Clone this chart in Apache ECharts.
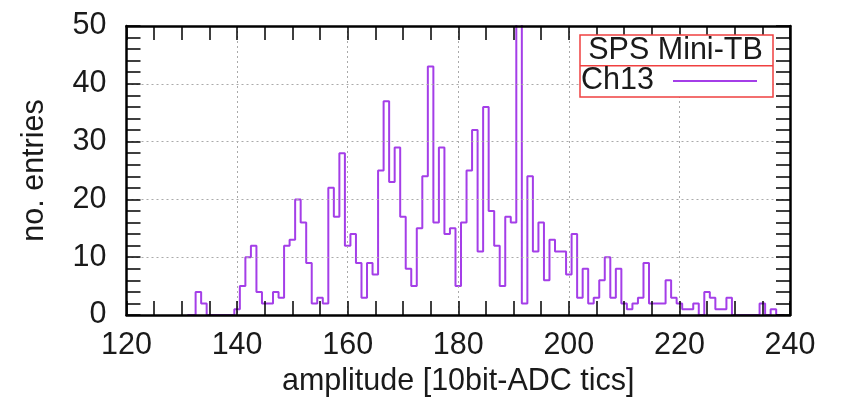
<!DOCTYPE html>
<html>
<head>
<meta charset="utf-8">
<script src="https://cdn.jsdelivr.net/npm/echarts@6/dist/echarts.min.js"></script>
<style>
html,body{margin:0;padding:0;background:#fff;}
#chart{width:853px;height:408px;}
</style>
</head>
<body>
<div id="chart"></div>
<script>
// ---- data ----
const amplitudes = [131,132,133,134,135,136,137,138,139,140,141,142,143,144,145,146,147,148,149,150,
  151,152,153,154,155,156,157,158,159,160,161,162,163,164,165,166,167,168,169,170,
  171,172,173,174,175,176,177,178,179,180,181,182,183,184,185,186,187,188,189,190,
  191,192,193,194,195,196,197,198,199,200,201,202,203,204,205,206,207,208,209,210,
  211,212,213,214,215,216,217,218,219,220,221,222,223,224,225,226,227,228,229,230,
  231,232,233,234,235,236,237,238,239];
const entries = [0,0,4,2,0,0,0,0,0,1,5,10,12,4,2,2,4,3,12,13,
  20,16,9,2,3,2,22,17,28,12,14,9,3,9,7,25,37,23,29,17,
  8,5,15,24,43,16,29,14,15,5,16,25,32,11,36,18,12,5,17,16,
  60,2,24,11,16,6,13,11,11,7,14,3,8,2,3,6,10,3,8,2,
  1,2,3,9,2,2,2,6,3,2,1,1,2,0,4,3,1,1,3,0,
  0,0,0,0,2,0,1,0,0];
const seriesName = 'Ch13';
const legendTitle = 'SPS Mini-TB';
const xTitle = 'amplitude [10bit-ADC tics]';
const yTitle = 'no. entries';

const FONT = '"Liberation Sans", Arial, Helvetica, sans-serif';
const FS = 30.5;
const TXT = '#1a1a1a';
const LINE = '#a43ee8';

const chart = echarts.init(document.getElementById('chart'), null, {renderer:'canvas'});

function axisCommon(extra){
  return Object.assign({
    type:'value',
    axisLine:{show:true, onZero:false, lineStyle:{color:'#000', width:2.5}},
    axisTick:{show:true, inside:true, length:14, lineStyle:{color:'#000', width:1.5}},
    minorSplitLine:{show:false},
    z:5
  }, extra);
}
const gridLine = {show:true, lineStyle:{color:'#aaaaaa', type:[2,3], width:1}};

chart.setOption({
  animation:false,
  backgroundColor:'#fff',
  grid:{left:126.5, right:63, top:26, bottom:93, containLabel:false},
  xAxis:[
    axisCommon({position:'bottom', min:120, max:240, interval:20,
      minorTick:{show:true, splitNumber:4, length:14, lineStyle:{color:'#000', width:1.5}},
      axisLabel:{show:true, fontSize:FS, fontFamily:FONT, color:TXT, margin:15},
      splitLine:gridLine,
      name:xTitle, nameLocation:'middle', nameGap:47,
      nameTextStyle:{fontSize:FS, fontFamily:FONT, color:TXT}}),
    axisCommon({position:'top', min:120, max:240, interval:20,
      minorTick:{show:true, splitNumber:4, length:14, lineStyle:{color:'#000', width:1.5}},
      axisLabel:{show:false}, splitLine:{show:false}})
  ],
  yAxis:[
    axisCommon({position:'left', min:0, max:50, interval:10,
      minorTick:{show:true, splitNumber:5, length:14, lineStyle:{color:'#000', width:1.5}},
      axisLabel:{show:true, fontSize:FS, fontFamily:FONT, color:TXT, margin:20},
      splitLine:gridLine,
      name:yTitle, nameLocation:'middle', nameGap:76, nameRotate:90,
      nameTextStyle:{fontSize:FS, fontFamily:FONT, color:TXT}}),
    axisCommon({position:'right', min:0, max:50, interval:10,
      minorTick:{show:true, splitNumber:5, length:14, lineStyle:{color:'#000', width:1.5}},
      axisLabel:{show:false}, splitLine:{show:false}})
  ],
  legend:{
    show:true, data:[{name:seriesName, icon:'rect'}], left:581, top:65, padding:0,
    align:'right', itemWidth:1, itemHeight:1, z:20,
    itemStyle:{color:'rgba(0,0,0,0)'},
    textStyle:{fontSize:FS, fontFamily:FONT, color:TXT}
  },
  graphic:[
    {type:'rect', z:10, shape:{x:580, y:35, width:193, height:62},
      style:{fill:'#fff', stroke:'#f04040', lineWidth:1.5}},
    {type:'line', z:11, shape:{x1:580, y1:65.7, x2:773, y2:65.7},
      style:{stroke:'#f04040', lineWidth:1.5}},
    {type:'line', z:21, shape:{x1:673, y1:81, x2:757, y2:81},
      style:{stroke:LINE, lineWidth:2}},
    {type:'text', z:21, x:675.5, y:50.5,
      style:{text:legendTitle, font:FS + 'px ' + FONT, fill:TXT, align:'center', verticalAlign:'middle'}}
  ],
  series:[{
    name:seriesName, type:'line', xAxisIndex:0, yAxisIndex:0,
    step:'middle', symbol:'none', clip:true, z:2,
    lineStyle:{color:LINE, width:2},
    itemStyle:{color:LINE},
    data:amplitudes.map((a,i)=>[a, entries[i]])
  }]
});
</script>
</body>
</html>
